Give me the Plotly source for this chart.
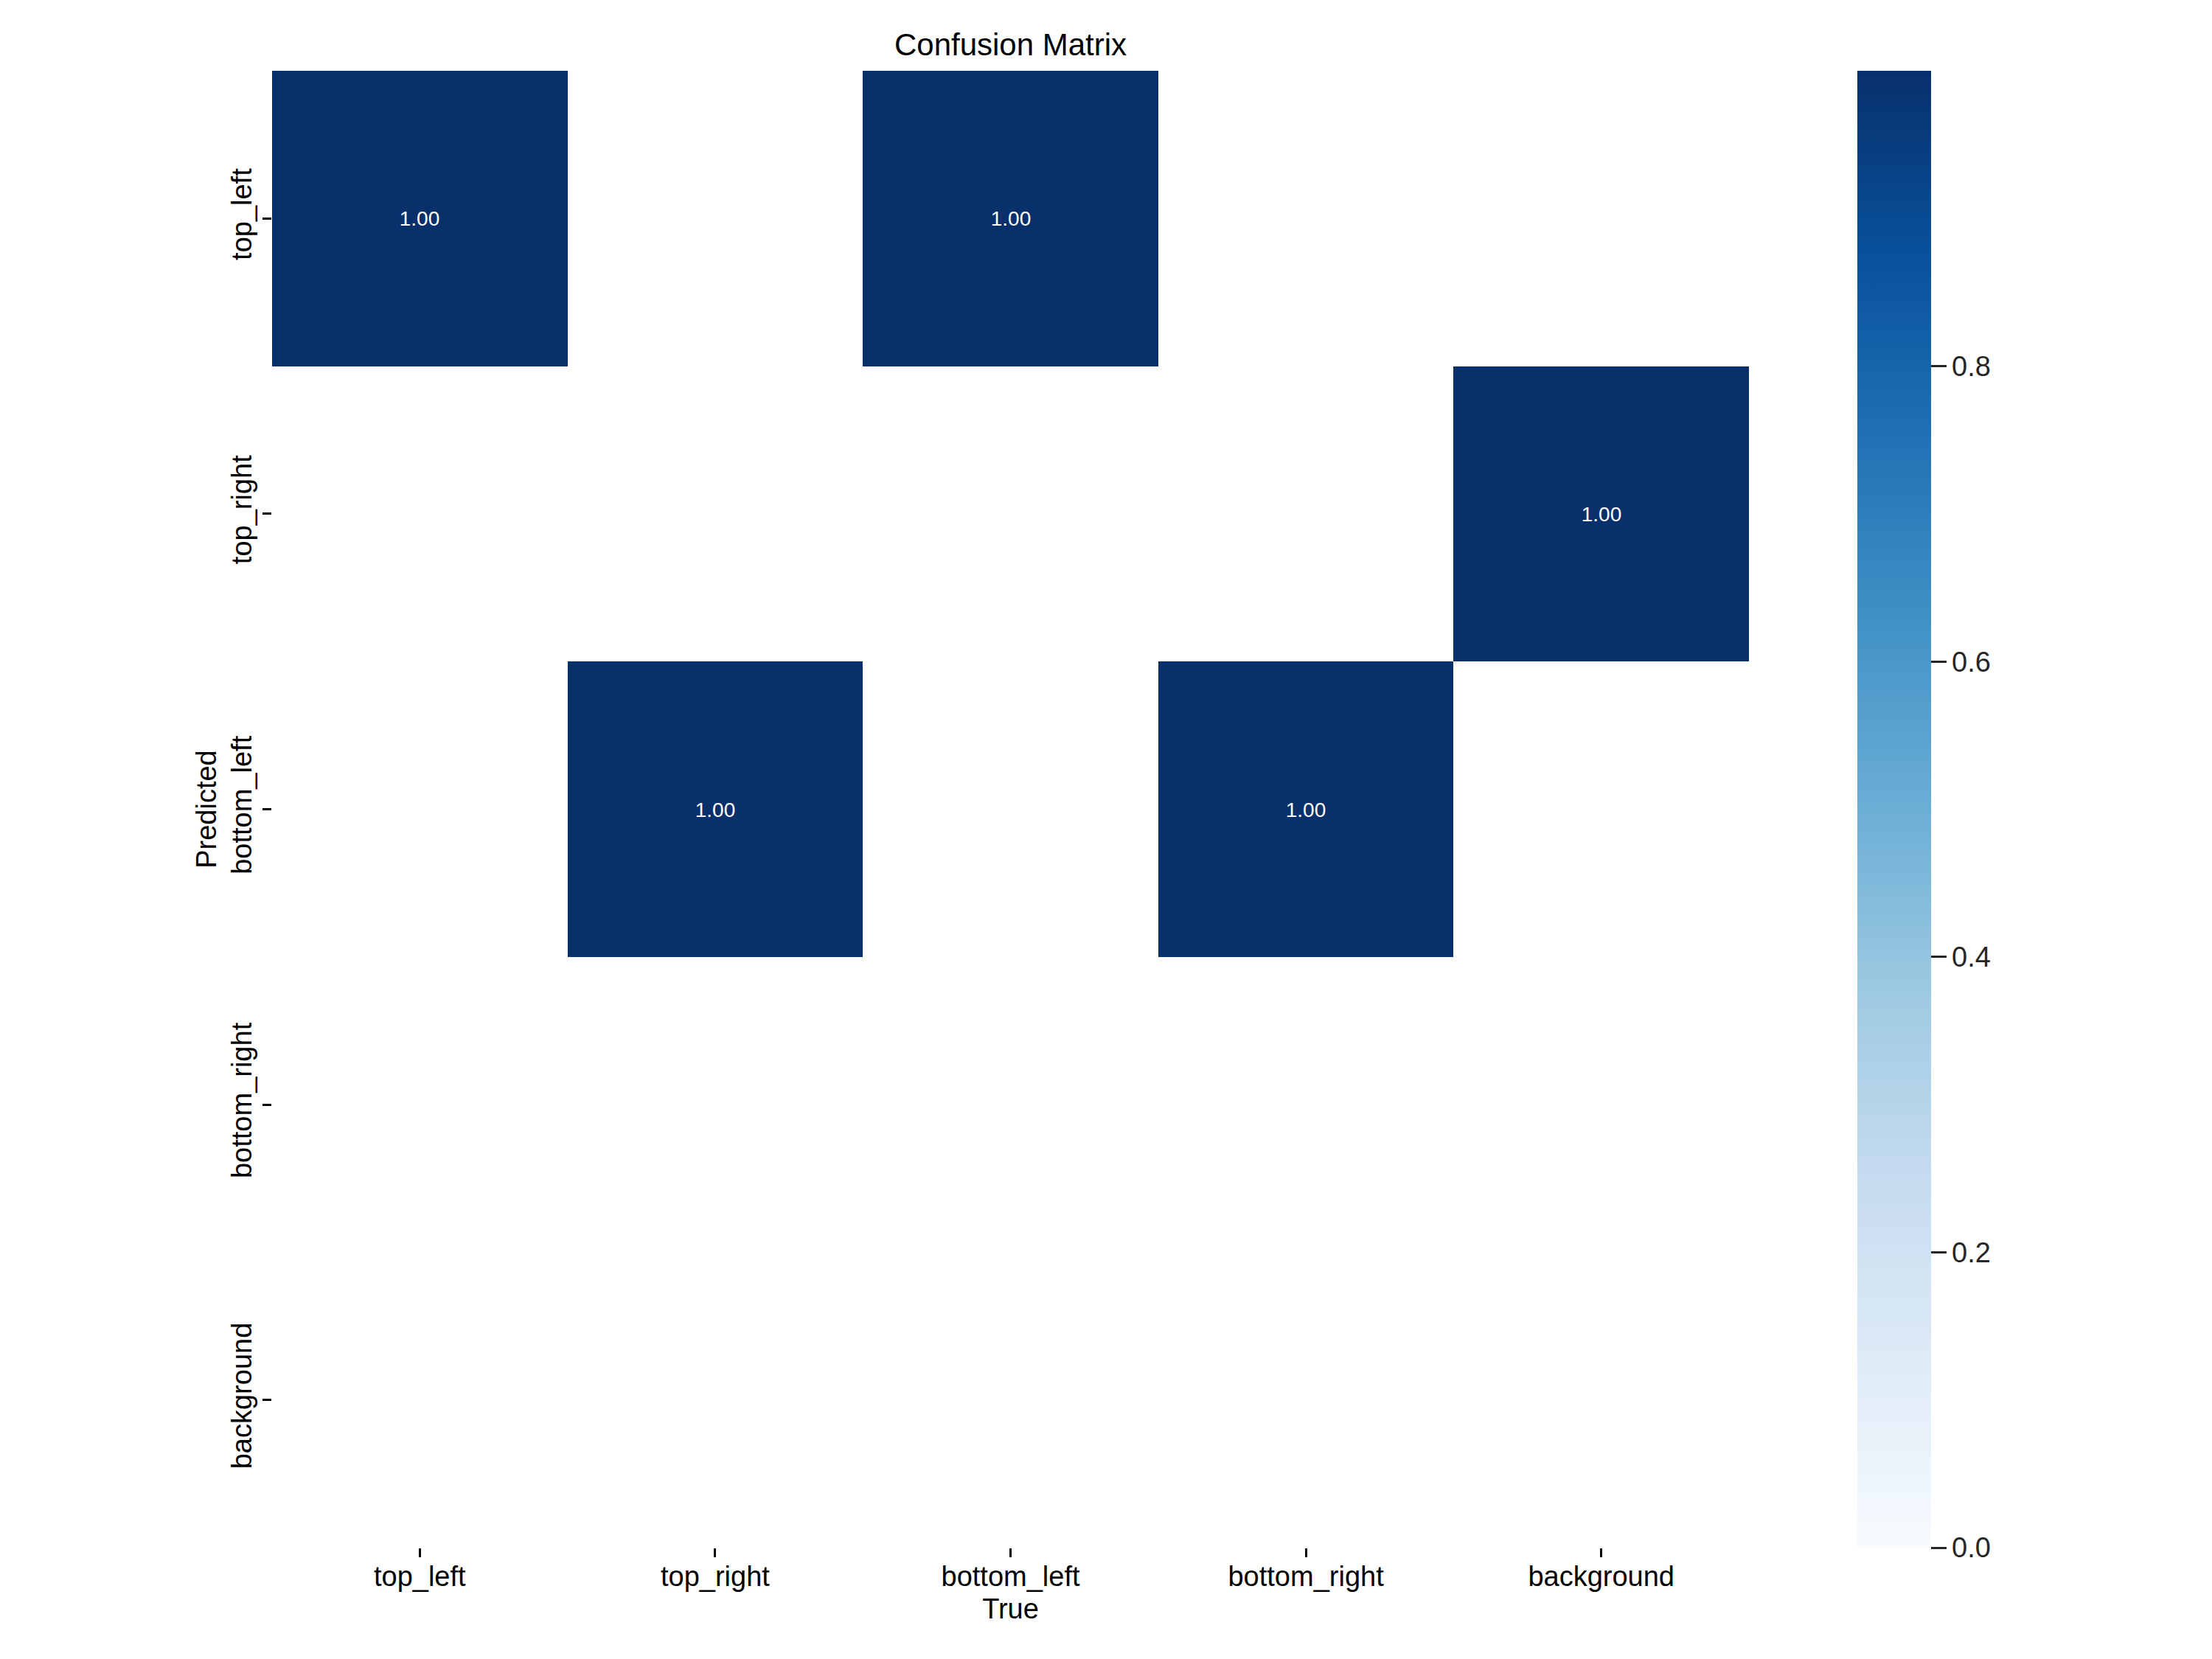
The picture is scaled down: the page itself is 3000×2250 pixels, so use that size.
import plotly.graph_objects as go

# ---- data ----
true_labels = ["top_left", "top_right", "bottom_left", "bottom_right", "background"]
pred_labels = ["top_left", "top_right", "bottom_left", "bottom_right", "background"]
row_top_left = [1.0, 0.0, 1.0, 0.0, 0.0]
row_top_right = [0.0, 0.0, 0.0, 0.0, 1.0]
row_bottom_left = [0.0, 1.0, 0.0, 1.0, 0.0]
row_bottom_right = [0.0, 0.0, 0.0, 0.0, 0.0]
row_background = [0.0, 0.0, 0.0, 0.0, 0.0]
matrix = [row_top_left, row_top_right, row_bottom_left, row_bottom_right, row_background]
cbar_ticks = [0.0, 0.2, 0.4, 0.6, 0.8]

# zero cells are masked (shown white), as in the reference
z = [[v if v > 0 else None for v in row] for row in matrix]
text = [[f"{v:.2f}" if v > 0 else "" for v in row] for row in matrix]

W, H = 3000, 2250
px0, px1 = 369, 2372
py0, py1 = 96, 2099

blues = [
    [0.0, "#f7fbff"], [0.125, "#deebf7"], [0.25, "#c6dbef"], [0.375, "#9ecae1"],
    [0.5, "#6baed6"], [0.625, "#4292c6"], [0.75, "#2171b5"], [0.875, "#08519c"],
    [1.0, "#08306b"],
]

FONT = "Liberation Sans, Arial, sans-serif"

fig = go.Figure(go.Heatmap(
    z=z, x=true_labels, y=pred_labels,
    text=text, texttemplate="%{text}",
    textfont=dict(family=FONT, size=28, color="white"),
    colorscale=blues, zmin=0.0, zmax=1.0,
    hoverongaps=False,
    colorbar=dict(
        x=2519 / W, xanchor="left", xref="paper",
        y=1 - py1 / H, yanchor="bottom",
        len=(py1 - py0) / H, lenmode="fraction",
        thickness=100, thicknessmode="pixels",
        outlinewidth=0,
        tickvals=cbar_ticks, ticktext=[f"{t:.1f}" for t in cbar_ticks],
        ticks="outside", ticklen=21, tickwidth=3, tickcolor="#262626",
        tickfont=dict(family=FONT, size=38, color="#262626"),
        xpad=0, ypad=0,
    ),
))

fig.update_layout(
    width=W, height=H,
    margin=dict(l=0, r=0, t=0, b=0),
    paper_bgcolor="white", plot_bgcolor="white",
    title=dict(text="Confusion Matrix", x=(px0 + px1) / 2 / W, xanchor="center",
               y=1 - 60 / H, yanchor="middle",
               font=dict(family=FONT, size=42, color="black")),
    xaxis=dict(
        domain=[px0 / W, px1 / W], showgrid=False, zeroline=False, showline=False,
        ticks="outside", ticklen=12, tickwidth=2.5, tickcolor="black",
        ticklabelstandoff=-7,
        tickfont=dict(family=FONT, size=38, color="black"),
        title=dict(text="True", font=dict(family=FONT, size=38, color="black"), standoff=10),
    ),
    yaxis=dict(
        domain=[1 - py1 / H, 1 - py0 / H], autorange="reversed",
        showgrid=False, zeroline=False, showline=False,
        ticks="outside", ticklen=12, tickwidth=2.5, tickcolor="black",
        tickangle=-90,
        tickfont=dict(family=FONT, size=38, color="black"),
        title=dict(text="Predicted", font=dict(family=FONT, size=38, color="black"), standoff=1),
    ),
)

fig.write_html("out.html")
